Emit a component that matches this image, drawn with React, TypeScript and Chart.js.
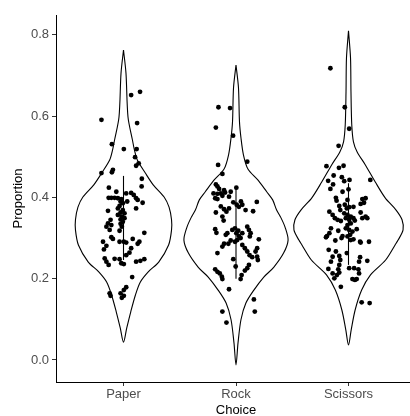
import { useEffect, useRef } from "react";
import { Chart, registerables } from "chart.js";

Chart.register(...registerables);

const categories = ["Paper", "Rock", "Scissors"];
const yTickValues = [0, 0.2, 0.4, 0.6, 0.8];

// Violin outlines: density levels (proportion) and half-widths (category units)
const paperLevels = [0.763, 0.706, 0.598, 0.542, 0.517, 0.492, 0.46, 0.431, 0.401, 0.376, 0.345, 0.32, 0.283, 0.241, 0.217, 0.192, 0.16, 0.118, 0.079, 0.044];
const paperHalfWidths = [0, 0.022, 0.04, 0.079, 0.097, 0.123, 0.194, 0.264, 0.361, 0.405, 0.427, 0.427, 0.401, 0.313, 0.22, 0.15, 0.106, 0.064, 0.029, 0];
const rockLevels = [0.726, 0.67, 0.586, 0.547, 0.505, 0.47, 0.443, 0.414, 0.394, 0.369, 0.352, 0.327, 0.295, 0.263, 0.228, 0.204, 0.172, 0.14, 0.099, 0.042, -0.012];
const rockHalfWidths = [0, 0.022, 0.031, 0.044, 0.066, 0.106, 0.194, 0.273, 0.326, 0.361, 0.396, 0.436, 0.463, 0.423, 0.335, 0.247, 0.159, 0.088, 0.044, 0.018, 0];
const scissorsLevels = [0.81, 0.743, 0.66, 0.579, 0.537, 0.512, 0.48, 0.438, 0.399, 0.369, 0.345, 0.32, 0.295, 0.283, 0.246, 0.209, 0.172, 0.123, 0.074, 0.037];
const scissorsHalfWidths = [0, 0.018, 0.022, 0.029, 0.044, 0.077, 0.15, 0.238, 0.326, 0.423, 0.476, 0.485, 0.441, 0.414, 0.33, 0.194, 0.117, 0.059, 0.024, 0];

// Mean ± SD line ends
const rangeLow = [0.246, 0.2, 0.234];
const rangeHigh = [0.453, 0.425, 0.435];

// Jittered observations: horizontal jitter (category units) and proportion
const paperJitter = [0.068, 0.147, -0.196, 0.121, -0.103, 0.003, 0.117, 0.103, 0.135, 0.112, -0.094, -0.103, -0.196, 0.163, 0.161, -0.13, -0.064, 0.024, 0.068, 0.091, -0.132, -0.108, -0.079, -0.05, -0.02, -0.026, -0.006, 0.033, 0.112, 0.126, 0.17, -0.035, -0.05, -0.138, 0.112, -0.006, -0.026, 0.009, -0.05, -0.015, 0.009, -0.026, -0.006, -0.115, -0.138, -0.108, -0.152, -0.026, -0.015, -0.123, -0.035, 0.185, -0.094, -0.108, 0.082, 0.141, 0.126, -0.182, -0.152, -0.174, -0.035, 0.003, 0.024, 0.068, 0.053, 0.024, -0.167, -0.152, -0.132, -0.079, -0.035, -0.02, 0.003, 0.112, 0.15, 0.185, 0.077, 0.024, 0.003, -0.123, -0.115, -0.026, 0.003, -0.015];
const paperValues = [0.652, 0.66, 0.591, 0.583, 0.531, 0.519, 0.519, 0.499, 0.484, 0.478, 0.468, 0.462, 0.46, 0.446, 0.427, 0.424, 0.414, 0.41, 0.411, 0.406, 0.399, 0.399, 0.399, 0.398, 0.396, 0.39, 0.386, 0.39, 0.398, 0.394, 0.387, 0.379, 0.373, 0.367, 0.373, 0.369, 0.363, 0.361, 0.357, 0.353, 0.349, 0.346, 0.34, 0.345, 0.336, 0.332, 0.328, 0.335, 0.328, 0.32, 0.318, 0.313, 0.298, 0.302, 0.298, 0.291, 0.286, 0.291, 0.281, 0.272, 0.291, 0.291, 0.289, 0.275, 0.264, 0.258, 0.25, 0.242, 0.234, 0.249, 0.248, 0.238, 0.236, 0.242, 0.244, 0.248, 0.204, 0.179, 0.172, 0.164, 0.158, 0.164, 0.158, 0.153];

const rockJitter = [-0.156, -0.053, -0.179, -0.026, 0.1, -0.159, -0.121, -0.179, -0.165, 0.003, -0.15, -0.106, -0.2, -0.165, -0.135, -0.097, -0.121, -0.047, -0.062, -0.185, -0.165, -0.024, 0.006, 0.044, 0.026, 0.056, 0.185, -0.135, -0.106, -0.062, -0.085, -0.179, -0.121, -0.11, 0.085, 0.152, -0.185, -0.174, -0.091, -0.077, -0.033, -0.009, 0.003, 0.02, 0.026, 0.041, 0.056, 0.011, -0.009, -0.047, -0.068, -0.106, -0.121, 0.1, 0.115, 0.13, 0.123, 0.203, 0.056, 0.079, 0.1, 0.121, 0.144, 0.188, 0.174, 0.188, 0.194, -0.165, -0.024, -0.003, 0.115, 0.1, 0.079, -0.185, -0.165, -0.144, -0.126, -0.121, 0.05, 0.041, -0.062, 0.159, -0.121, 0.167, -0.085];
const rockValues = [0.622, 0.62, 0.572, 0.552, 0.488, 0.48, 0.458, 0.432, 0.427, 0.424, 0.421, 0.418, 0.41, 0.409, 0.41, 0.412, 0.404, 0.414, 0.402, 0.398, 0.396, 0.388, 0.382, 0.39, 0.377, 0.382, 0.389, 0.378, 0.371, 0.373, 0.365, 0.363, 0.353, 0.343, 0.369, 0.366, 0.322, 0.313, 0.308, 0.312, 0.32, 0.324, 0.312, 0.318, 0.305, 0.3, 0.312, 0.295, 0.291, 0.294, 0.286, 0.286, 0.279, 0.328, 0.32, 0.312, 0.304, 0.297, 0.283, 0.275, 0.267, 0.258, 0.253, 0.275, 0.267, 0.254, 0.246, 0.263, 0.248, 0.23, 0.234, 0.226, 0.22, 0.223, 0.217, 0.213, 0.205, 0.199, 0.209, 0.199, 0.174, 0.149, 0.119, 0.119, 0.092];

const scissorsJitter = [-0.161, -0.033, 0.006, -0.088, -0.196, -0.085, -0.044, -0.132, -0.059, -0.038, 0.009, -0.181, -0.137, -0.161, 0, -0.053, 0.194, -0.112, -0.106, -0.082, -0.073, -0.009, -0.033, -0.015, 0.006, 0.123, 0.152, 0.138, 0.108, 0.044, -0.17, -0.141, -0.121, -0.097, -0.068, -0.038, -0.009, -0.024, 0.006, 0.02, 0.044, 0.056, 0.02, -0.009, -0.024, 0.006, 0.035, 0.015, -0.009, 0.108, 0.123, 0.152, 0.167, 0.073, -0.156, -0.17, -0.191, -0.2, -0.091, -0.053, -0.062, -0.117, 0.02, 0.044, 0.103, 0.108, 0.182, -0.176, -0.112, -0.015, -0.141, -0.156, -0.082, -0.073, 0.103, 0.094, 0.167, -0.179, -0.141, -0.126, -0.082, -0.091, -0.082, -0.103, 0.006, 0.05, 0.088, 0.094, 0.035, 0.057, 0.073, -0.068, 0.117, 0.188];
const scissorsValues = [0.718, 0.622, 0.569, 0.527, 0.477, 0.473, 0.478, 0.454, 0.45, 0.44, 0.443, 0.441, 0.432, 0.421, 0.42, 0.414, 0.443, 0.399, 0.392, 0.379, 0.369, 0.394, 0.382, 0.373, 0.376, 0.396, 0.398, 0.387, 0.384, 0.377, 0.365, 0.357, 0.349, 0.345, 0.342, 0.361, 0.357, 0.349, 0.345, 0.353, 0.349, 0.343, 0.336, 0.332, 0.324, 0.32, 0.316, 0.308, 0.304, 0.363, 0.349, 0.353, 0.349, 0.322, 0.324, 0.312, 0.305, 0.302, 0.318, 0.305, 0.3, 0.294, 0.295, 0.297, 0.291, 0.289, 0.291, 0.271, 0.267, 0.263, 0.254, 0.242, 0.256, 0.246, 0.253, 0.242, 0.244, 0.224, 0.213, 0.201, 0.234, 0.223, 0.215, 0.209, 0.226, 0.226, 0.223, 0.213, 0.199, 0.197, 0.199, 0.18, 0.142, 0.14];

export default function App() {
  const ref = useRef<HTMLCanvasElement>(null);

  useEffect(() => {
    if (!ref.current) return;
    const font = { family: "'Liberation Sans', Arial, Helvetica, sans-serif", size: 13 };
    const violins = [
      { levels: paperLevels, hw: paperHalfWidths },
      { levels: rockLevels, hw: rockHalfWidths },
      { levels: scissorsLevels, hw: scissorsHalfWidths },
    ];
    const points = [
      { j: paperJitter, v: paperValues },
      { j: rockJitter, v: rockValues },
      { j: scissorsJitter, v: scissorsValues },
    ];
    const datasets: any[] = [];
    violins.forEach((vi, i) => {
      const c = i + 1;
      const right = vi.levels.map((y, k) => ({ x: c + vi.hw[k], y }));
      const left = vi.levels.map((y, k) => ({ x: c - vi.hw[k], y })).reverse();
      datasets.push({
        type: "line",
        data: [...right, ...left.slice(1)],
        borderColor: "#000",
        borderWidth: 1.1,
        pointRadius: 0,
        fill: false,
        tension: 0.3,
        order: 3,
      });
    });
    points.forEach((p, i) => {
      const c = i + 1;
      datasets.push({
        type: "scatter",
        data: p.v.map((y, k) => ({ x: c + p.j[k], y })),
        backgroundColor: "#000",
        borderWidth: 0,
        pointRadius: 2.4,
        order: 2,
      });
    });
    categories.forEach((_, i) => {
      datasets.push({
        type: "line",
        data: [
          { x: i + 1, y: rangeLow[i] },
          { x: i + 1, y: rangeHigh[i] },
        ],
        borderColor: "#000",
        borderWidth: 1.1,
        pointRadius: 0,
        fill: false,
        order: 1,
      });
    });

    const chart = new Chart(ref.current, {
      type: "scatter",
      data: { datasets },
      options: {
        animation: false,
        responsive: false,
        layout: { padding: { left: 0, right: 1, top: 15, bottom: 0 } },
        plugins: { legend: { display: false }, tooltip: { enabled: false } },
        scales: {
          x: {
            type: "linear",
            min: 0.4,
            max: 3.6,
            afterBuildTicks: (s: any) => {
              s.ticks = categories.map((_, i) => ({ value: i + 1 }));
            },
            afterFit: (s: any) => {
              s.height = 42;
            },
            ticks: {
              callback: (_v: any, idx: number) => categories[idx],
              font,
              color: "#4D4D4D",
              padding: 1,
              maxRotation: 0,
              autoSkip: false,
            },
            grid: { drawOnChartArea: false, drawTicks: true, tickLength: 4, color: "#333", lineWidth: 1 },
            border: { display: true, color: "#000", width: 1 },
            title: { display: true, text: "Choice", font, color: "#000", padding: { top: 0, bottom: 6 } },
          },
          y: {
            type: "linear",
            min: -0.0542,
            max: 0.849,
            afterBuildTicks: (s: any) => {
              s.ticks = yTickValues.map((v) => ({ value: v }));
            },
            afterFit: (s: any) => {
              s.width = 56;
            },
            ticks: {
              callback: (v: any) => Number(v).toFixed(1),
              font,
              color: "#4D4D4D",
              padding: 3,
            },
            grid: { drawOnChartArea: false, drawTicks: true, tickLength: 4, color: "#333", lineWidth: 1 },
            border: { display: true, color: "#000", width: 1 },
            title: { display: true, text: "Proportion", font, color: "#000", padding: { top: 11, bottom: 0 } },
          },
        },
      },
    });
    return () => chart.destroy();
  }, []);

  return (
    <div style={{ position: "fixed", left: 0, top: 0, width: 410, height: 416, overflow: "hidden", background: "#fff" }}>
      <canvas ref={ref} width={420} height={424} style={{ width: 420, height: 424, display: "block" }} />
    </div>
  );
}
